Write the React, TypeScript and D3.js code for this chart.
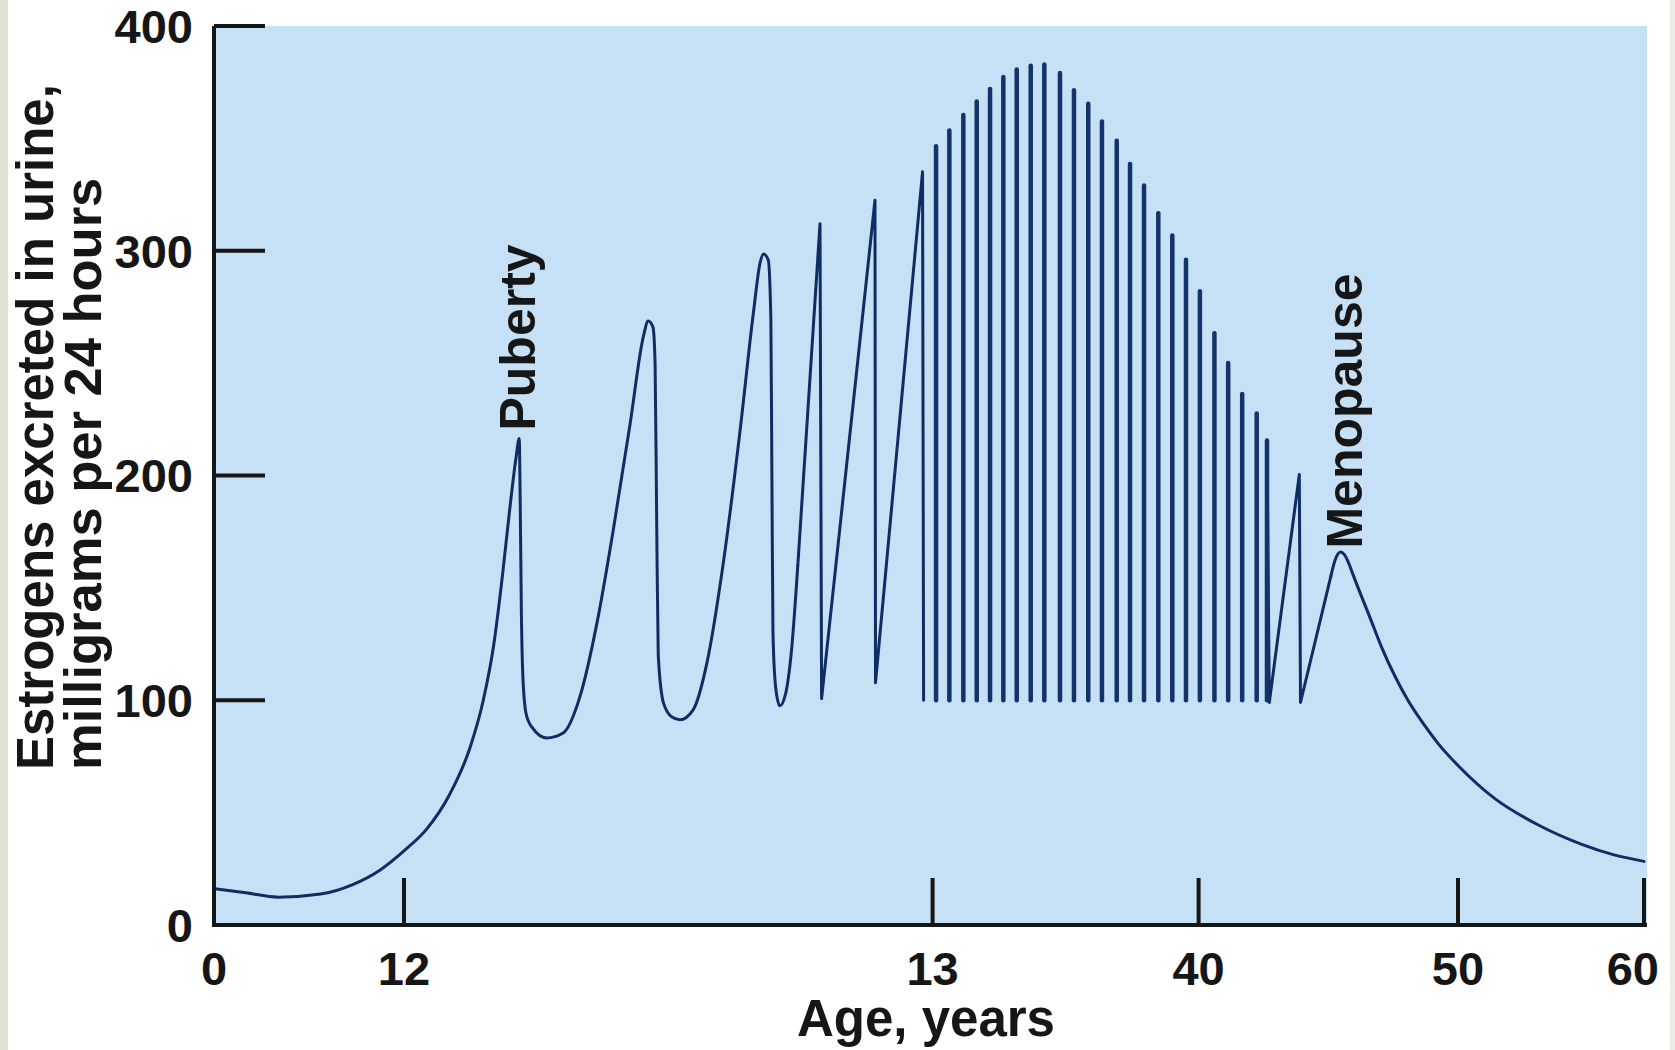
import React from "react";
import * as d3 from "d3";

// ---- Axis ticks ----
const xTickAges = [0, 12, 13, 40, 50, 60];
const yTickValues = [0, 100, 200, 300, 400];

// ---- Smooth part: childhood, puberty and first cycles (age, mg/24h) ----
const riseAges = [
  0, 2.02, 4.05, 6.74, 8.76, 10.45, 12.0,
  12.044, 12.085, 12.125, 12.15, 12.17, 12.186, 12.2, 12.212, 12.218,
  12.22, 12.222, 12.225, 12.231, 12.242, 12.27, 12.301, 12.333, 12.365, 12.396,
  12.428, 12.453, 12.462, 12.471, 12.475, 12.478, 12.481, 12.491, 12.507, 12.522,
  12.547, 12.573, 12.604, 12.636, 12.661, 12.674, 12.68, 12.689, 12.694, 12.696,
  12.698, 12.703, 12.711, 12.722, 12.733, 12.745,
];
const riseLevels = [
  16.2, 14.3, 12.4, 13.8, 18, 24.3, 33,
  43, 57.5, 79, 100, 125, 155, 185, 208, 216.5,
  185, 140, 110, 94, 88, 83.2, 85.4, 101.7, 134.3, 175.9,
  223.4, 262, 268.7, 266, 250, 180, 120, 98.7, 92.5, 91.3,
  95.7, 116.5, 161, 220.4, 272.4, 295, 298.5, 296, 270, 200,
  130, 106, 97.5, 103, 122, 160,
];

// ---- Saw-tooth cycles just before age 13 ----
const sawAges = [12.745, 12.787, 12.79, 12.891, 12.892, 12.981, 12.983];
const sawLevels = [160, 312, 100.7, 322.5, 107.8, 335.2, 100];

// ---- Monthly cycles of reproductive life ----
const cycleAges = [
  13.35, 14.7, 16.12, 17.48, 18.83, 20.18, 21.54, 22.96, 24.34, 25.93,
  27.35, 28.8, 30.19, 31.69, 33.04, 34.46, 35.91, 37.33, 38.72, 40.05,
  40.61, 41.14, 41.68, 42.24, 42.637,
];
const cyclePeaks = [
  346.5, 353.5, 360.4, 366.4, 372, 377.3, 380.7, 382.3, 382.9, 379.1,
  371.4, 365.4, 357.5, 348.9, 338.6, 329, 316.7, 306.8, 296, 282,
  263.3, 250.1, 236.3, 227.6, 215.6,
];
const cycleTrough = 100;

// ---- Last irregular cycle ----
const lateAges = [42.637, 42.726, 43.882, 43.928, 45.1];
const lateLevels = [215.6, 99, 200.4, 99, 155.2];

// ---- Menopause and decline ----
const declineAges = [
  45.1, 45.25, 45.47, 45.62, 45.77, 45.95, 46.15, 46.6, 47.04, 47.6,
  48.07, 48.7, 49.25, 50.0, 52.02, 54.32, 56.62, 58.34, 60,
];
const declineLevels = [
  155.2, 162, 166, 164.8, 161.5, 156, 150, 137, 124, 110,
  100, 89, 80.5, 71, 56, 44.5, 36, 31.3, 28.3,
];

// ---- Annotations ----
const annotationTexts = ["Puberty", "Menopause"];
const annotationAges = [12.248, 46.3];
const annotationLevels = [220, 167.5];

const yTitleLines = ["Estrogens excreted in urine,", "milligrams per 24 hours"];
const xTitle = "Age, years";

const W = 1675;
const H = 1050;
const FONT = "'Liberation Sans', Arial, Helvetica, sans-serif";
const INK = "#161616";
const CURVE = "#0f2d62";

export default function App() {
  const xScale = d3
    .scaleLinear()
    .domain(xTickAges)
    .range([214, 404, 932.6, 1198.6, 1458, 1644]);
  const yScale = d3.scaleLinear().domain([0, 400]).range([925, 26]);

  const zip = (a: number[], b: number[]) => a.map((v, i) => [v, b[i]] as [number, number]);

  const smooth = d3
    .line<[number, number]>()
    .x((d) => xScale(d[0]))
    .y((d) => yScale(d[1]))
    .curve(d3.curveMonotoneX);
  const straight = d3
    .line<[number, number]>()
    .x((d) => xScale(d[0]))
    .y((d) => yScale(d[1]))
    .curve(d3.curveLinear);

  const paths = [
    smooth(zip(riseAges, riseLevels)),
    straight(zip(sawAges, sawLevels)),
    straight(zip(lateAges, lateLevels)),
    smooth(zip(declineAges, declineLevels)),
  ];

  const x0 = xScale(0);
  const xEnd = xScale(60) + 3;
  const yTop = yScale(400);
  const yBase = yScale(0);

  const yTitleX = [53, 101];
  const yTitleSize = [51, 52.5];

  return (
    <svg
      width={W}
      height={H}
      viewBox={`0 0 ${W} ${H}`}
      style={{ position: "absolute", left: 0, top: 0, background: "#ffffff" }}
    >
      <rect x={0} y={0} width={8} height={H} fill="#e2dfd3" />
      <rect x={1670} y={0} width={5} height={H} fill="#ecebe5" />
      <rect x={x0} y={yTop} width={xEnd - x0} height={yBase - yTop} fill="#c6e1f6" />

      {/* curve */}
      {paths.map((d, i) => (
        <path
          key={i}
          d={d || ""}
          fill="none"
          stroke={CURVE}
          strokeWidth={3}
          strokeLinejoin="round"
          strokeLinecap="round"
        />
      ))}
      {cycleAges.map((a, i) => (
        <line
          key={"c" + i}
          x1={xScale(a)}
          x2={xScale(a)}
          y1={yScale(cycleTrough)}
          y2={yScale(cyclePeaks[i])}
          stroke="#14336b"
          strokeWidth={4.5}
          strokeLinecap="round"
        />
      ))}

      {/* axes */}
      <line x1={x0} x2={x0} y1={yTop} y2={yBase + 2} stroke={INK} strokeWidth={4} />
      <line x1={x0 - 2} x2={xEnd} y1={yBase} y2={yBase} stroke={INK} strokeWidth={4} />
      {yTickValues
        .filter((v) => v > 0)
        .map((v) => (
          <line key={"yt" + v} x1={x0} x2={x0 + 51} y1={yScale(v)} y2={yScale(v)} stroke={INK} strokeWidth={4} />
        ))}
      {xTickAges
        .filter((a) => a > 0)
        .map((a) => (
          <line key={"xt" + a} x1={xScale(a)} x2={xScale(a)} y1={yBase} y2={yBase - 47} stroke={INK} strokeWidth={4} />
        ))}

      {/* tick labels */}
      {yTickValues.map((v) => (
        <text
          key={"yl" + v}
          x={193}
          y={yScale(v)}
          dy="0.36em"
          textAnchor="end"
          fontFamily={FONT}
          fontWeight="bold"
          fontSize={47}
          fill={INK}
        >
          {v}
        </text>
      ))}
      {xTickAges.map((a, i) => {
        const last = i === xTickAges.length - 1;
        return (
          <text
            key={"xl" + a}
            x={last ? xScale(a) + 15 : xScale(a)}
            y={985}
            textAnchor={last ? "end" : "middle"}
            fontFamily={FONT}
            fontWeight="bold"
            fontSize={47}
            fill={INK}
          >
            {a}
          </text>
        );
      })}

      {/* titles */}
      {yTitleLines.map((t, i) => (
        <text
          key={"ytl" + i}
          transform={`translate(${yTitleX[i]},770) rotate(-90)`}
          fontFamily={FONT}
          fontWeight="bold"
          fontSize={yTitleSize[i]}
          fill={INK}
        >
          {t}
        </text>
      ))}
      <text
        x={926}
        y={1036}
        textAnchor="middle"
        fontFamily={FONT}
        fontWeight="bold"
        fontSize={51}
        fill={INK}
      >
        {xTitle}
      </text>

      {/* annotations */}
      {annotationTexts.map((t, i) => (
        <text
          key={"an" + i}
          transform={`translate(${xScale(annotationAges[i])},${yScale(annotationLevels[i])}) rotate(-90)`}
          fontFamily={FONT}
          fontWeight="bold"
          fontSize={50}
          fill={INK}
        >
          {t}
        </text>
      ))}
    </svg>
  );
}
